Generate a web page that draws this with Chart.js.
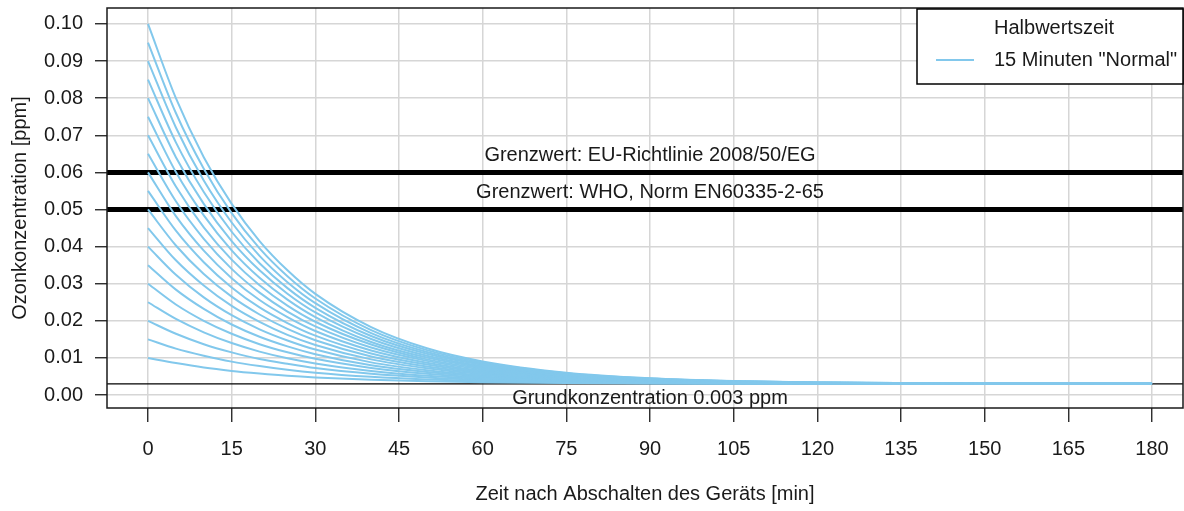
<!DOCTYPE html>
<html lang="de">
<head>
<meta charset="UTF-8">
<title>Ozonkonzentration</title>
<script src="https://cdn.jsdelivr.net/npm/chart.js"></script>
<style>
  html, body { margin: 0; padding: 0; background: #fff; }
  #wrap { width: 1184px; height: 511px; }
</style>
</head>
<body>
<div id="wrap"><canvas id="chart"></canvas></div>
<script>
// time after switching off [min]
const times = [0, 5, 10, 15, 20, 25, 30, 40, 50, 60, 75, 90, 105, 120, 150, 180];

// ozone concentration [ppm], one curve per start value, half-life 15 min
const c010 = [0.010, 0.0086, 0.0074, 0.0065, 0.0058, 0.0052, 0.00475, 0.0041, 0.0037, 0.00344, 0.00322, 0.00311, 0.00305, 0.00303, 0.003007, 0.003002];
const c015 = [0.015, 0.0125, 0.0106, 0.0090, 0.0078, 0.0068, 0.00600, 0.0049, 0.0042, 0.00375, 0.00338, 0.00319, 0.00309, 0.00305, 0.003012, 0.003003];
const c020 = [0.020, 0.0165, 0.0137, 0.0115, 0.0097, 0.0084, 0.00725, 0.0057, 0.0047, 0.00406, 0.00353, 0.00327, 0.00313, 0.00307, 0.003017, 0.003004];
const c025 = [0.025, 0.0205, 0.0169, 0.0140, 0.0117, 0.0099, 0.00850, 0.0065, 0.0052, 0.00438, 0.00369, 0.00334, 0.00317, 0.00309, 0.003021, 0.003005];
const c030 = [0.030, 0.0244, 0.0200, 0.0165, 0.0137, 0.0115, 0.00975, 0.0073, 0.0057, 0.00469, 0.00384, 0.00342, 0.00321, 0.00311, 0.003026, 0.003007];
const c035 = [0.035, 0.0284, 0.0232, 0.0190, 0.0157, 0.0131, 0.01100, 0.0080, 0.0062, 0.00500, 0.00400, 0.00350, 0.00325, 0.00313, 0.003031, 0.003008];
const c040 = [0.040, 0.0324, 0.0263, 0.0215, 0.0177, 0.0147, 0.01225, 0.0088, 0.0067, 0.00531, 0.00416, 0.00358, 0.00329, 0.00314, 0.003036, 0.003009];
const c045 = [0.045, 0.0363, 0.0295, 0.0240, 0.0197, 0.0162, 0.01350, 0.0096, 0.0072, 0.00563, 0.00431, 0.00366, 0.00333, 0.00316, 0.003041, 0.003010];
const c050 = [0.050, 0.0403, 0.0326, 0.0265, 0.0217, 0.0178, 0.01475, 0.0104, 0.0077, 0.00594, 0.00447, 0.00373, 0.00337, 0.00318, 0.003046, 0.003011];
const c055 = [0.055, 0.0443, 0.0358, 0.0290, 0.0236, 0.0194, 0.01600, 0.0112, 0.0082, 0.00625, 0.00463, 0.00381, 0.00341, 0.00320, 0.003051, 0.003013];
const c060 = [0.060, 0.0482, 0.0389, 0.0315, 0.0256, 0.0210, 0.01725, 0.0120, 0.0087, 0.00656, 0.00478, 0.00389, 0.00345, 0.00322, 0.003056, 0.003014];
const c065 = [0.065, 0.0522, 0.0421, 0.0340, 0.0276, 0.0225, 0.01850, 0.0128, 0.0092, 0.00688, 0.00494, 0.00397, 0.00348, 0.00324, 0.003061, 0.003015];
const c070 = [0.070, 0.0562, 0.0452, 0.0365, 0.0296, 0.0241, 0.01975, 0.0136, 0.0096, 0.00719, 0.00509, 0.00405, 0.00352, 0.00326, 0.003065, 0.003016];
const c075 = [0.075, 0.0601, 0.0484, 0.0390, 0.0316, 0.0257, 0.02100, 0.0143, 0.0101, 0.00750, 0.00525, 0.00413, 0.00356, 0.00328, 0.003070, 0.003018];
const c080 = [0.080, 0.0641, 0.0515, 0.0415, 0.0336, 0.0273, 0.02225, 0.0151, 0.0106, 0.00781, 0.00541, 0.00420, 0.00360, 0.00330, 0.003075, 0.003019];
const c085 = [0.085, 0.0681, 0.0547, 0.0440, 0.0355, 0.0288, 0.02350, 0.0159, 0.0111, 0.00813, 0.00556, 0.00428, 0.00364, 0.00332, 0.003080, 0.003020];
const c090 = [0.090, 0.0721, 0.0578, 0.0465, 0.0375, 0.0304, 0.02475, 0.0167, 0.0116, 0.00844, 0.00572, 0.00436, 0.00368, 0.00334, 0.003085, 0.003021];
const c095 = [0.095, 0.0760, 0.0610, 0.0490, 0.0395, 0.0320, 0.02600, 0.0175, 0.0121, 0.00875, 0.00588, 0.00444, 0.00372, 0.00336, 0.003090, 0.003022];
const c100 = [0.100, 0.0800, 0.0641, 0.0515, 0.0415, 0.0336, 0.02725, 0.0183, 0.0126, 0.00906, 0.00603, 0.00452, 0.00376, 0.00338, 0.003095, 0.003024];
const curves = [c010, c015, c020, c025, c030, c035, c040, c045, c050, c055, c060, c065, c070, c075, c080, c085, c090, c095, c100];

// limit values and base concentration
const limitValues = [0.06, 0.05];
const limitLabels = ['Grenzwert: EU-Richtlinie 2008/50/EG', 'Grenzwert: WHO, Norm EN60335-2-65'];
const baseValue = 0.003;
const baseLabel = 'Grundkonzentration 0.003 ppm';
const labelAt = 90;

// axes
const xTicks = [0, 15, 30, 45, 60, 75, 90, 105, 120, 135, 150, 165, 180];
const yTicks = [0, 0.01, 0.02, 0.03, 0.04, 0.05, 0.06, 0.07, 0.08, 0.09, 0.10];
const xMin = -7.35, xMax = 185.55;
const yMin = -0.0035, yMax = 0.1043;

const legendTitle = 'Halbwertszeit';
const legendLabel = '15 Minuten "Normal"';

const FONT = '"Liberation Sans", Arial, sans-serif';
const BLUE = '#82C8EC';
const INK = '#1a1a1a';

function hLine(v, width) {
  return {
    data: [{ x: xMin, y: v }, { x: xMax, y: v }],
    borderColor: '#000',
    borderWidth: width,
    pointRadius: 0,
    clip: 0,
    order: 2
  };
}

const datasets = [];
limitValues.forEach(v => datasets.push(hLine(v, 5)));
datasets.push(hLine(baseValue, 1.4));
curves.forEach(c => {
  datasets.push({
    data: times.map((t, i) => ({ x: t, y: c[i] })),
    borderColor: BLUE,
    borderWidth: 2,
    pointRadius: 0,
    cubicInterpolationMode: 'monotone',
    clip: 0,
    order: 1
  });
});

const overlay = {
  id: 'overlay',
  afterDatasetsDraw(chart) {
    const { ctx, chartArea: a, scales: { x, y } } = chart;
    ctx.save();
    ctx.font = '20px ' + FONT;
    ctx.fillStyle = INK;
    ctx.textAlign = 'center';
    ctx.textBaseline = 'middle';
    limitValues.forEach((v, i) => {
      ctx.fillText(limitLabels[i], x.getPixelForValue(labelAt), y.getPixelForValue(v) - 17);
    });
    ctx.fillText(baseLabel, x.getPixelForValue(labelAt), y.getPixelForValue(baseValue) + 15);

    // plot box
    ctx.strokeStyle = INK;
    ctx.lineWidth = 1.5;
    ctx.strokeRect(a.left, a.top, a.right - a.left, a.bottom - a.top);

    // legend
    const lw = 266, lh = 75;
    const lx = a.right - lw, ly = a.top + 1;
    ctx.fillStyle = '#fff';
    ctx.fillRect(lx, ly, lw, lh);
    ctx.strokeStyle = '#000';
    ctx.lineWidth = 1.5;
    ctx.strokeRect(lx, ly, lw, lh);
    ctx.fillStyle = INK;
    ctx.textAlign = 'left';
    ctx.fillText(legendTitle, lx + 77, ly + 19);
    ctx.fillText(legendLabel, lx + 77, ly + 51);
    ctx.strokeStyle = BLUE;
    ctx.lineWidth = 2;
    ctx.beginPath();
    ctx.moveTo(lx + 19, ly + 51);
    ctx.lineTo(lx + 57, ly + 51);
    ctx.stroke();
    ctx.restore();
  }
};

new Chart(document.getElementById('chart'), {
  type: 'line',
  data: { datasets },
  options: {
    responsive: true,
    maintainAspectRatio: false,
    animation: false,
    layout: { padding: { top: 8, right: 1, left: 0, bottom: 0 } },
    plugins: { legend: { display: false }, tooltip: { enabled: false } },
    scales: {
      x: {
        type: 'linear',
        min: xMin,
        max: xMax,
        afterBuildTicks: s => { s.ticks = xTicks.map(v => ({ value: v })); },
        afterFit: s => { s.height = 103; s.paddingLeft = 0; s.paddingRight = 0; },
        grid: { color: '#d6d6d6', lineWidth: 1.5, tickColor: INK, tickWidth: 1.3, tickLength: 14 },
        border: { display: false },
        ticks: { color: INK, font: { family: FONT, size: 20 }, padding: 15, maxRotation: 0, autoSkip: false },
        title: { display: true, text: 'Zeit nach Abschalten des Geräts [min]', color: INK, font: { family: FONT, size: 20 }, padding: { top: 0, bottom: 5 } }
      },
      y: {
        type: 'linear',
        min: yMin,
        max: yMax,
        afterBuildTicks: s => { s.ticks = yTicks.map(v => ({ value: v })); },
        afterFit: s => { s.width = 107; s.paddingTop = 0; s.paddingBottom = 0; },
        grid: { color: '#d6d6d6', lineWidth: 1.5, tickColor: INK, tickWidth: 1.3, tickLength: 12 },
        border: { display: false },
        ticks: { color: INK, font: { family: FONT, size: 20 }, padding: 12, callback: v => v.toFixed(2) },
        title: { display: true, text: 'Ozonkonzentration [ppm]', color: INK, font: { family: FONT, size: 20 }, padding: { top: 8, bottom: 0 } }
      }
    }
  },
  plugins: [overlay]
});
</script>
</body>
</html>
